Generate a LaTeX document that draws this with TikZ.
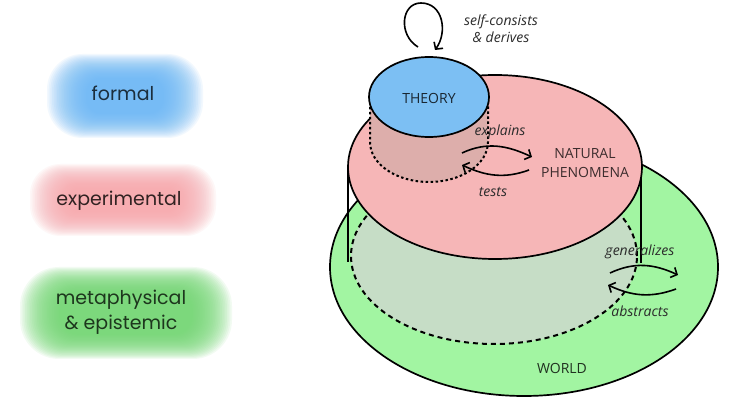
\documentclass[tikz,border=0pt]{standalone}
\usepackage{fontspec}
\setmainfont{Open Sans}
\newfontfamily\blobfont{Poppins}
\usetikzlibrary{arrows.meta}
\definecolor{thblue}{HTML}{7CBFF3}
\definecolor{phpink}{HTML}{F6B6B7}
\definecolor{wdgreen}{HTML}{A2F5A2}
\definecolor{cygray}{HTML}{C6DDC6}
\definecolor{thbrown}{HTML}{DDAEAB}
\definecolor{fblue}{HTML}{6AB8F5}
\definecolor{xpink}{HTML}{F7A8AC}
\definecolor{mgreen}{HTML}{72D872}
\definecolor{ink}{HTML}{2B2B2B}

\begin{document}
\begin{tikzpicture}[x=1pt,y=1pt,>={Straight Barb[length=5pt,width=11pt]},
  outline/.style={line width=1.7pt},
  rel/.style={->,line width=1.6pt},
  lbl/.style={font=\fontsize{14}{17}\selectfont\itshape,text=ink,align=center},
  caps/.style={font=\fontsize{14}{19}\selectfont,align=center},
  legend/.style={font=\blobfont\fontsize{19}{25}\selectfont,align=center}]
\path[use as bounding box,fill=white] (0,0) rectangle (729,402);
% legend glows
\foreach \cx/\cy/\w/\h/\c in {125/306/78/42/fblue,123/202/93/36/xpink,126/89/106/46/mgreen}
  \foreach \k in {0,...,23}{
    \pgfmathsetmacro\gw{\w-1.7*\k}
    \pgfmathsetmacro\gh{\h-1.05*\k}
    \pgfmathsetmacro\gr{0.85*\gh}
    \fill[\c,opacity=.085,rounded corners=\gr pt] (\cx-\gw,\cy-\gh) rectangle (\cx+\gw,\cy+\gh);
  }
\node[legend,text=fblue!25!black] (formal) at (123,309) {formal};
\node[legend,text=xpink!20!black] (exper) at (119,201) {experimental};
\node[legend,text=mgreen!25!black] (meta) at (121,90) {metaphysical\\\& epistemic};
% world
\draw[outline,fill=wdgreen] (524,135) ellipse (194 and 129);
\fill[cygray] (494,146) ellipse (143 and 88);
\draw[line width=2pt,dash pattern=on 5pt off 4pt] (494,146) ellipse (143 and 88);
\draw[outline] (348,235) -- (348,140);
\draw[outline] (641,235) -- (641,139);
% natural phenomena
\draw[outline,fill=phpink] (495,235) ellipse (147 and 92);
\fill[thbrown] (429,260) ellipse (59 and 40);
\fill[thbrown] (370,260) rectangle (488,305);
\draw[line width=2pt,dash pattern=on 2.5pt off 2.5pt] (370,305) -- (370,260)
  arc[start angle=180,end angle=360,x radius=59,y radius=40] -- (488,305);
% theory
\draw[outline,fill=thblue] (429,305) ellipse (60 and 40);
\node[caps,text=thblue!20!black] (theory) at (429,304) {THEORY};
\node[caps,text=phpink!25!black] (nat) at (585,239) {NATURAL\\PHENOMENA};
\node[caps,text=wdgreen!20!black] (world) at (562,34) {WORLD};

\coordinate (lp-a) at (418,355);
\coordinate (lp-top) at (421,399);
\coordinate (lp-b) at (435,352);
\draw[rel] (lp-a) .. controls (398,367) and (401,399) .. (lp-top)
  .. controls (443,399) and (448,370) .. (lp-b);
\node[lbl] (self) at (501,373) {self-consists\\\& derives};

\coordinate (ex-a) at (462,249);
\coordinate (ex-b) at (532,245);
\coordinate (ts-a) at (529,232);
\coordinate (ts-b) at (462,237);
\draw[rel] (ex-a) to[out=25,in=155] (ex-b);
\draw[rel] (ts-a) to[out=200,in=335] (ts-b);
\node[lbl] (explains) at (500,270) {explains};
\node[lbl] (tests) at (493,210) {tests};

\coordinate (gn-a) at (610,129);
\coordinate (gn-b) at (678,127);
\coordinate (ab-a) at (676,113);
\coordinate (ab-b) at (608,117);
\draw[rel] (gn-a) to[out=25,in=155] (gn-b);
\draw[rel] (ab-a) to[out=200,in=335] (ab-b);
\node[lbl] (gen) at (640,150) {generalizes};
\node[lbl] (abs) at (640,91) {abstracts};
\end{tikzpicture}
\end{document}
